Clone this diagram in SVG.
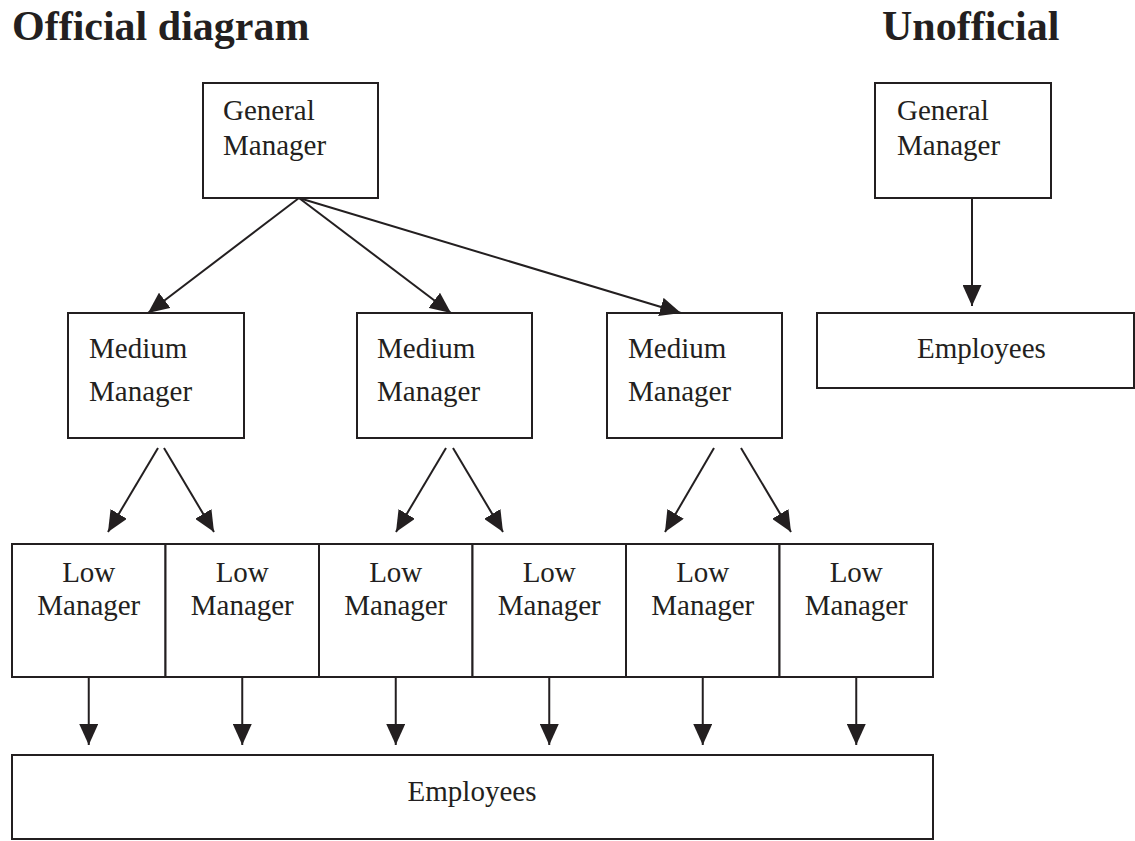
<svg xmlns="http://www.w3.org/2000/svg" width="1135" height="841" viewBox="0 0 1135 841">
<defs>
<style>
.box{fill:#fff;stroke:#231f20;stroke-width:2}
.t{font-family:"Liberation Serif","Times New Roman",serif;font-size:29px;fill:#231f20}
.c{text-anchor:middle}
.title{font-family:"Liberation Serif","Times New Roman",serif;font-size:42px;font-weight:bold;fill:#231f20}
.con line{stroke:#231f20;stroke-width:2;marker-end:url(#ah)}
</style>
<marker id="ah" markerUnits="userSpaceOnUse" markerWidth="21" markerHeight="19" refX="21" refY="9.5" orient="auto" viewBox="0 0 21 19">
<path d="M0,0 L21,9.5 L0,19 Z" fill="#231f20"/>
</marker>
</defs>
<rect width="1135" height="841" fill="#fff"/>
<text class="title" x="12" y="40">Official diagram</text>
<text class="title" x="882" y="40">Unofficial</text>

<g id="gm-official"><rect class="box" x="203" y="83" width="175" height="115"/><text class="t" x="223" y="120">General</text><text class="t" x="223" y="155">Manager</text></g>
<g id="mm1"><rect class="box" x="68" y="313" width="176" height="125"/><text class="t" x="89" y="358">Medium</text><text class="t" x="89" y="401">Manager</text></g>
<g id="mm2"><rect class="box" x="357" y="313" width="175" height="125"/><text class="t" x="377" y="358">Medium</text><text class="t" x="377" y="401">Manager</text></g>
<g id="mm3"><rect class="box" x="607" y="313" width="175" height="125"/><text class="t" x="628" y="358">Medium</text><text class="t" x="628" y="401">Manager</text></g>

<g id="lm1"><rect class="box" x="12" y="544" width="153.5" height="133"/><text class="t c" x="88.75" y="582">Low</text><text class="t c" x="88.75" y="615">Manager</text></g>
<g id="lm2"><rect class="box" x="165.5" y="544" width="153.5" height="133"/><text class="t c" x="242.25" y="582">Low</text><text class="t c" x="242.25" y="615">Manager</text></g>
<g id="lm3"><rect class="box" x="319" y="544" width="153.5" height="133"/><text class="t c" x="395.75" y="582">Low</text><text class="t c" x="395.75" y="615">Manager</text></g>
<g id="lm4"><rect class="box" x="472.5" y="544" width="153.5" height="133"/><text class="t c" x="549.25" y="582">Low</text><text class="t c" x="549.25" y="615">Manager</text></g>
<g id="lm5"><rect class="box" x="626" y="544" width="153.5" height="133"/><text class="t c" x="702.75" y="582">Low</text><text class="t c" x="702.75" y="615">Manager</text></g>
<g id="lm6"><rect class="box" x="779.5" y="544" width="153.5" height="133"/><text class="t c" x="856.25" y="582">Low</text><text class="t c" x="856.25" y="615">Manager</text></g>

<g id="emp-official"><rect class="box" x="12" y="755" width="921" height="84"/><text class="t c" x="472" y="801">Employees</text></g>

<g id="gm-unofficial"><rect class="box" x="875" y="83" width="176" height="115"/><text class="t" x="897" y="120">General</text><text class="t" x="897" y="155">Manager</text></g>
<g id="emp-unofficial"><rect class="box" x="817" y="313" width="317" height="75"/><text class="t" x="917" y="358">Employees</text></g>

<g id="connectors" class="con">
<line x1="299" y1="198" x2="148" y2="313"/>
<line x1="299" y1="198" x2="451" y2="313"/>
<line x1="299" y1="198" x2="681" y2="313"/>
<line x1="158" y1="448" x2="108" y2="532"/>
<line x1="164" y1="448" x2="214" y2="532"/>
<line x1="446" y1="448" x2="396" y2="532"/>
<line x1="453" y1="448" x2="503" y2="532"/>
<line x1="714" y1="448" x2="665" y2="532"/>
<line x1="741" y1="448" x2="791" y2="532"/>
<line x1="88.75" y1="677" x2="88.75" y2="745"/>
<line x1="242.25" y1="677" x2="242.25" y2="745"/>
<line x1="395.75" y1="677" x2="395.75" y2="745"/>
<line x1="549.25" y1="677" x2="549.25" y2="745"/>
<line x1="702.75" y1="677" x2="702.75" y2="745"/>
<line x1="856.25" y1="677" x2="856.25" y2="745"/>
<line x1="972" y1="198" x2="972" y2="306"/>
</g>
</svg>
